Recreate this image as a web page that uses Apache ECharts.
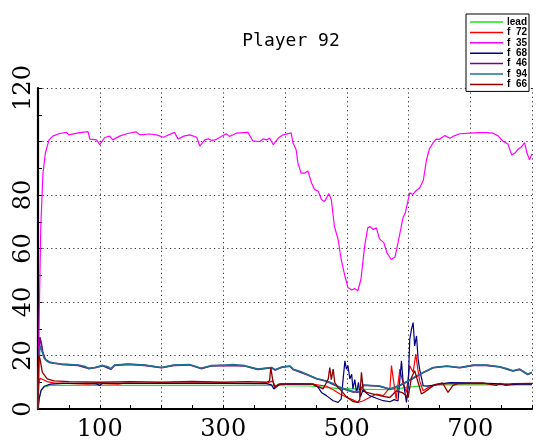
<!DOCTYPE html>
<html>
<head>
<meta charset="utf-8">
<script src="https://cdn.jsdelivr.net/npm/echarts@6/dist/echarts.min.js"></script>
<style>
html,body{margin:0;padding:0;background:#fff;}
#chart{width:536px;height:442px;}
</style>
</head>
<body>
<div id="chart"></div>
<script>
const titleText = 'Player 92';
const seriesNames = ['lead', 'f  72', 'f  35', 'f  68', 'f  46', 'f  94', 'f  66'];
const xTickLabels = ['100', '300', '500', '700'];
const yTickLabels = ['0', '20', '40', '60', '80', '120'];

const lead = [[0,0],[2,4],[5,7],[10,8.3],[20,8.8],[100,8.8],[200,8.8],[300,8.8],[380,8.8],[400,8.7],[440,8.6],[470,8],[490,7.6],[520,7.4],[570,7.2],[597,8.1],[624,8.7],[660,9],[720,9],[800,9]];

const f72 = [[0,0],[1,9],[3,11.5],[8,11],[15,10.2],[25,9.8],[50,9.6],[80,9.3],[95,9.6],[130,9.3],[140,9.7],[200,9.6],[250,9.8],[300,9.7],[370,9.6],[380,10.5],[384,8.5],[392,9.3],[420,9.5],[445,9.3],[467,8.5],[478,7.2],[489,5.6],[499,4.5],[510,3.4],[518,2.5],[521,2.2],[526,3],[537,4.3],[548,5.6],[559,5],[570,8],[572.4,16.2],[575,11.8],[580,3.7],[586,14.9],[591,9.9],[596.7,6.2],[602,16.2],[607.5,13.7],[611.8,20.5],[615,15],[618,10.6],[623.7,6.8],[630,7.8],[645,9.3],[680,9.6],[720,9.5],[760,9.4],[800,9.4]];

const f35 = [[0,0],[2,35],[4.5,68],[8,88],[12,95.8],[18,100.7],[24,102],[35,103],[46,103.4],[50,102.5],[65,103.2],[81,103.7],[84,100.9],[95,100.6],[100,98.8],[108,101.5],[116,102],[121,100.6],[132,102],[145,103],[159,103.6],[165,102.5],[180,102.8],[192,102.5],[203,101.6],[221,103.4],[227,100.9],[236,102],[246,102.5],[257,101.6],[262,98.3],[270,100.6],[276,101],[281,100.4],[287,100.6],[296,101.8],[305,102.9],[310,101.9],[321,103.1],[340,103.4],[348,100.2],[359,100],[365,101],[370,100.6],[375,101.3],[381,98.8],[390,101.5],[397,102.5],[410,103.2],[413,99.4],[418,96.9],[421,91.9],[426,88.2],[432,88.2],[437,89],[443,84.5],[448,82],[454,81.4],[459,78.3],[464,77.6],[471,80.5],[475,78.3],[480,68.3],[486,63.4],[491,55.9],[497,49.7],[502,45.4],[508,44.5],[513,45],[518,44.2],[523,48.5],[529,60.9],[534,67.7],[538,68.2],[543,67.1],[548,67.7],[553,63.6],[560,62.2],[565,58.4],[572,55.9],[578,56.7],[583,62.1],[591,71.4],[595,73.5],[602,80.8],[607,80.2],[613,81.8],[618,82.6],[624,85.5],[629,93],[634,97.3],[640,99.6],[645,100.9],[650,100.8],[659,102.2],[667,101.2],[672,101.9],[683,102.9],[699,103.1],[715,103.3],[726,103.3],[737,103.1],[745,102.1],[753,100.1],[761,99.1],[767,95],[772,95.6],[777,97],[783,98],[788,99.6],[792,95.6],[796,93.2],[800,95.4]];

const f68 = [[0,0],[2,4],[5,7],[10,8.5],[20,9.3],[40,9.6],[80,9.6],[95,9.4],[100,8.8],[104,9.6],[150,9.6],[200,9.6],[300,9.6],[370,9.5],[378,9],[382,7.5],[386,8.2],[392,9.3],[420,9.3],[445,9.3],[453.6,8.1],[459,6.2],[467,5],[478,3.1],[486,2.5],[491,3.7],[497,18],[499.5,14.9],[502,16.2],[505,11.2],[508,13],[510,7.5],[513,11],[516,6],[519,10],[522,4.5],[526,7],[537,5],[548,4],[559,3.1],[570,2.7],[577,3.5],[583,3],[588.6,18],[591,11],[596.7,2.5],[599.4,8],[602,26],[604.8,29.8],[607.5,32.3],[610,23.6],[613,27.3],[615.6,18.6],[618,14.9],[623.7,8.7],[630,8.5],[650,9.3],[667,9.9],[700,9.8],[740,9.5],[760,9],[780,9.3],[800,9.3]];

const f46 = [[0,0],[1,18],[3,26.8],[5,25],[8,21],[12,18.5],[20,17.3],[38,16.7],[65,16.3],[82,15.1],[92,15.4],[105,16.2],[118,14.9],[124,16.3],[146,16.7],[173,16.3],[200,15.4],[220,16.3],[245,16.5],[264,15.1],[280,16.1],[305,16.3],[335,16.1],[356,14.8],[378,15.4],[384,14.6],[395,15.6],[408,16],[413,14.8],[435,12.9],[451,11.3],[467,10.4],[489,8],[510,6.4],[521,6.4],[527,8.9],[553,8.5],[570,7.4],[586,8.8],[597,10.1],[624,13.6],[640,15.4],[662,16],[683,15.4],[705,16.3],[726,16.3],[748,15.7],[769,14.2],[780,14.8],[793,12.9],[800,13.6]];

const f94 = [[0,0],[1,15],[3,23.6],[6,22],[10,19],[15,17.8],[25,17.2],[38,16.8],[65,16.4],[75,16],[82,15.2],[92,15.5],[105,16.3],[113,15.8],[118,15],[124,16.4],[146,16.8],[173,16.4],[200,15.5],[220,16.4],[245,16.6],[264,15.2],[280,16.2],[305,16.4],[316,16.6],[335,16.2],[356,14.9],[378,15.5],[384,14.7],[395,15.7],[408,16.1],[413,14.9],[425,14],[435,13],[451,11.4],[467,10.5],[478,9.5],[489,8.1],[500,7.2],[510,6.5],[521,6.5],[527,9],[540,8.8],[553,8.6],[570,7.5],[586,8.9],[597,10.2],[610,12],[624,13.7],[640,15.5],[662,16.1],[683,15.5],[705,16.4],[726,16.4],[748,15.8],[760,15],[769,14.3],[780,14.9],[793,13],[800,13.7]];

const f66 = [[0,0],[1,20],[3,19],[7,13.7],[15,11.3],[26,10.5],[50,10.2],[100,10],[150,10.2],[200,10],[250,10.3],[300,10],[340,10.2],[370,10],[375,10.5],[377,15.5],[380,11],[383,8],[390,9.3],[420,9.5],[445,9.3],[461.7,7.5],[470,11.2],[472.5,15.5],[475,11],[478,14.9],[480.6,9.9],[486,8],[491.4,6.8],[499.5,4.5],[510,2.8],[518,2.5],[521,3.5],[523.8,13.7],[526.5,7.5],[532,6.2],[545,5.5],[559,4.7],[569.7,4.3],[580.5,6.8],[591,6],[599.4,4.3],[604.8,11.8],[610,14.3],[615.6,9.9],[621,5.6],[627,6.5],[640,8.7],[655,9.8],[664,6.2],[672,8.8],[680,9.5],[720,9.8],[742,8.8],[748,9.6],[758,8.8],[770,9.5],[800,9.6]];

const seriesData = [lead, f72, f35, f68, f46, f94, f66];
const colors = ['#1ee21e', '#ff0000', '#ff00ff', '#000080', '#800080', '#1c7390', '#8b0000'];
const widths = [1.2, 1.2, 1.2, 1.2, 1.6, 1.6, 1.3];

const chart = echarts.init(document.getElementById('chart'), null, {renderer: 'canvas'});
const gridLine = {show: true, lineStyle: {color: '#333', type: [1.2, 3.2], width: 1}};

chart.setOption({
  animation: false,
  backgroundColor: '#ffffff',
  title: {
    text: titleText,
    left: 286,
    top: 27,
    textAlign: 'center',
    textStyle: {fontFamily: 'DejaVu Sans Mono', fontSize: 18, fontWeight: 'normal', color: '#000'}
  },
  legend: {
    orient: 'vertical',
    left: 466,
    top: 14,
    padding: [3, 2, 2, 4],
    backgroundColor: '#fff',
    borderColor: '#000',
    borderWidth: 1,
    borderRadius: 0,
    itemWidth: 33,
    itemHeight: 10,
    itemGap: 0.4,
    textStyle: {fontFamily: 'Liberation Sans', fontWeight: 'bold', fontSize: 10, lineHeight: 10, color: '#000', padding: [0, 0, 0, -1]},
    data: seriesNames.map(n => ({name: n, icon: 'path://M0,0 L33,0 L33,1.5 L0,1.5 Z'}))
  },
  grid: {left: 38, right: 4, top: 88, bottom: 32, containLabel: false},
  xAxis: {
    type: 'value', min: 0, max: 800, interval: 100,
    axisLine: {show: true, onZero: false, lineStyle: {color: '#000', width: 2.2}},
    axisTick: {show: true, inside: true, length: 4, lineStyle: {color: '#000', width: 1}},
    minorTick: {show: true, splitNumber: 2, length: 4, lineStyle: {color: '#000', width: 1}},
    splitLine: gridLine,
    axisLabel: {
      margin: 9,
      fontFamily: 'DejaVu Serif', fontSize: 24, color: '#000',
      formatter: v => xTickLabels.indexOf(String(v)) >= 0 ? String(v) : ''
    }
  },
  yAxis: {
    type: 'value', min: 0, max: 120, interval: 20,
    axisLine: {show: true, onZero: false, lineStyle: {color: '#000', width: 2.2}},
    axisTick: {show: true, inside: true, length: 4, lineStyle: {color: '#000', width: 1}},
    minorTick: {show: true, splitNumber: 2, length: 4, lineStyle: {color: '#000', width: 1}},
    splitLine: gridLine,
    axisLabel: {
      rotate: 90, margin: 2,
      fontFamily: 'DejaVu Serif', fontSize: 24, color: '#000',
      formatter: v => yTickLabels.indexOf(String(v)) >= 0 ? String(v) : ''
    }
  },
  series: seriesData.map((d, i) => ({
    name: seriesNames[i],
    type: 'line',
    data: d,
    symbol: 'none',
    clip: true,
    lineStyle: {color: colors[i], width: widths[i]},
    itemStyle: {color: colors[i]},
    z: 2 + i
  }))
});
</script>
</body>
</html>
